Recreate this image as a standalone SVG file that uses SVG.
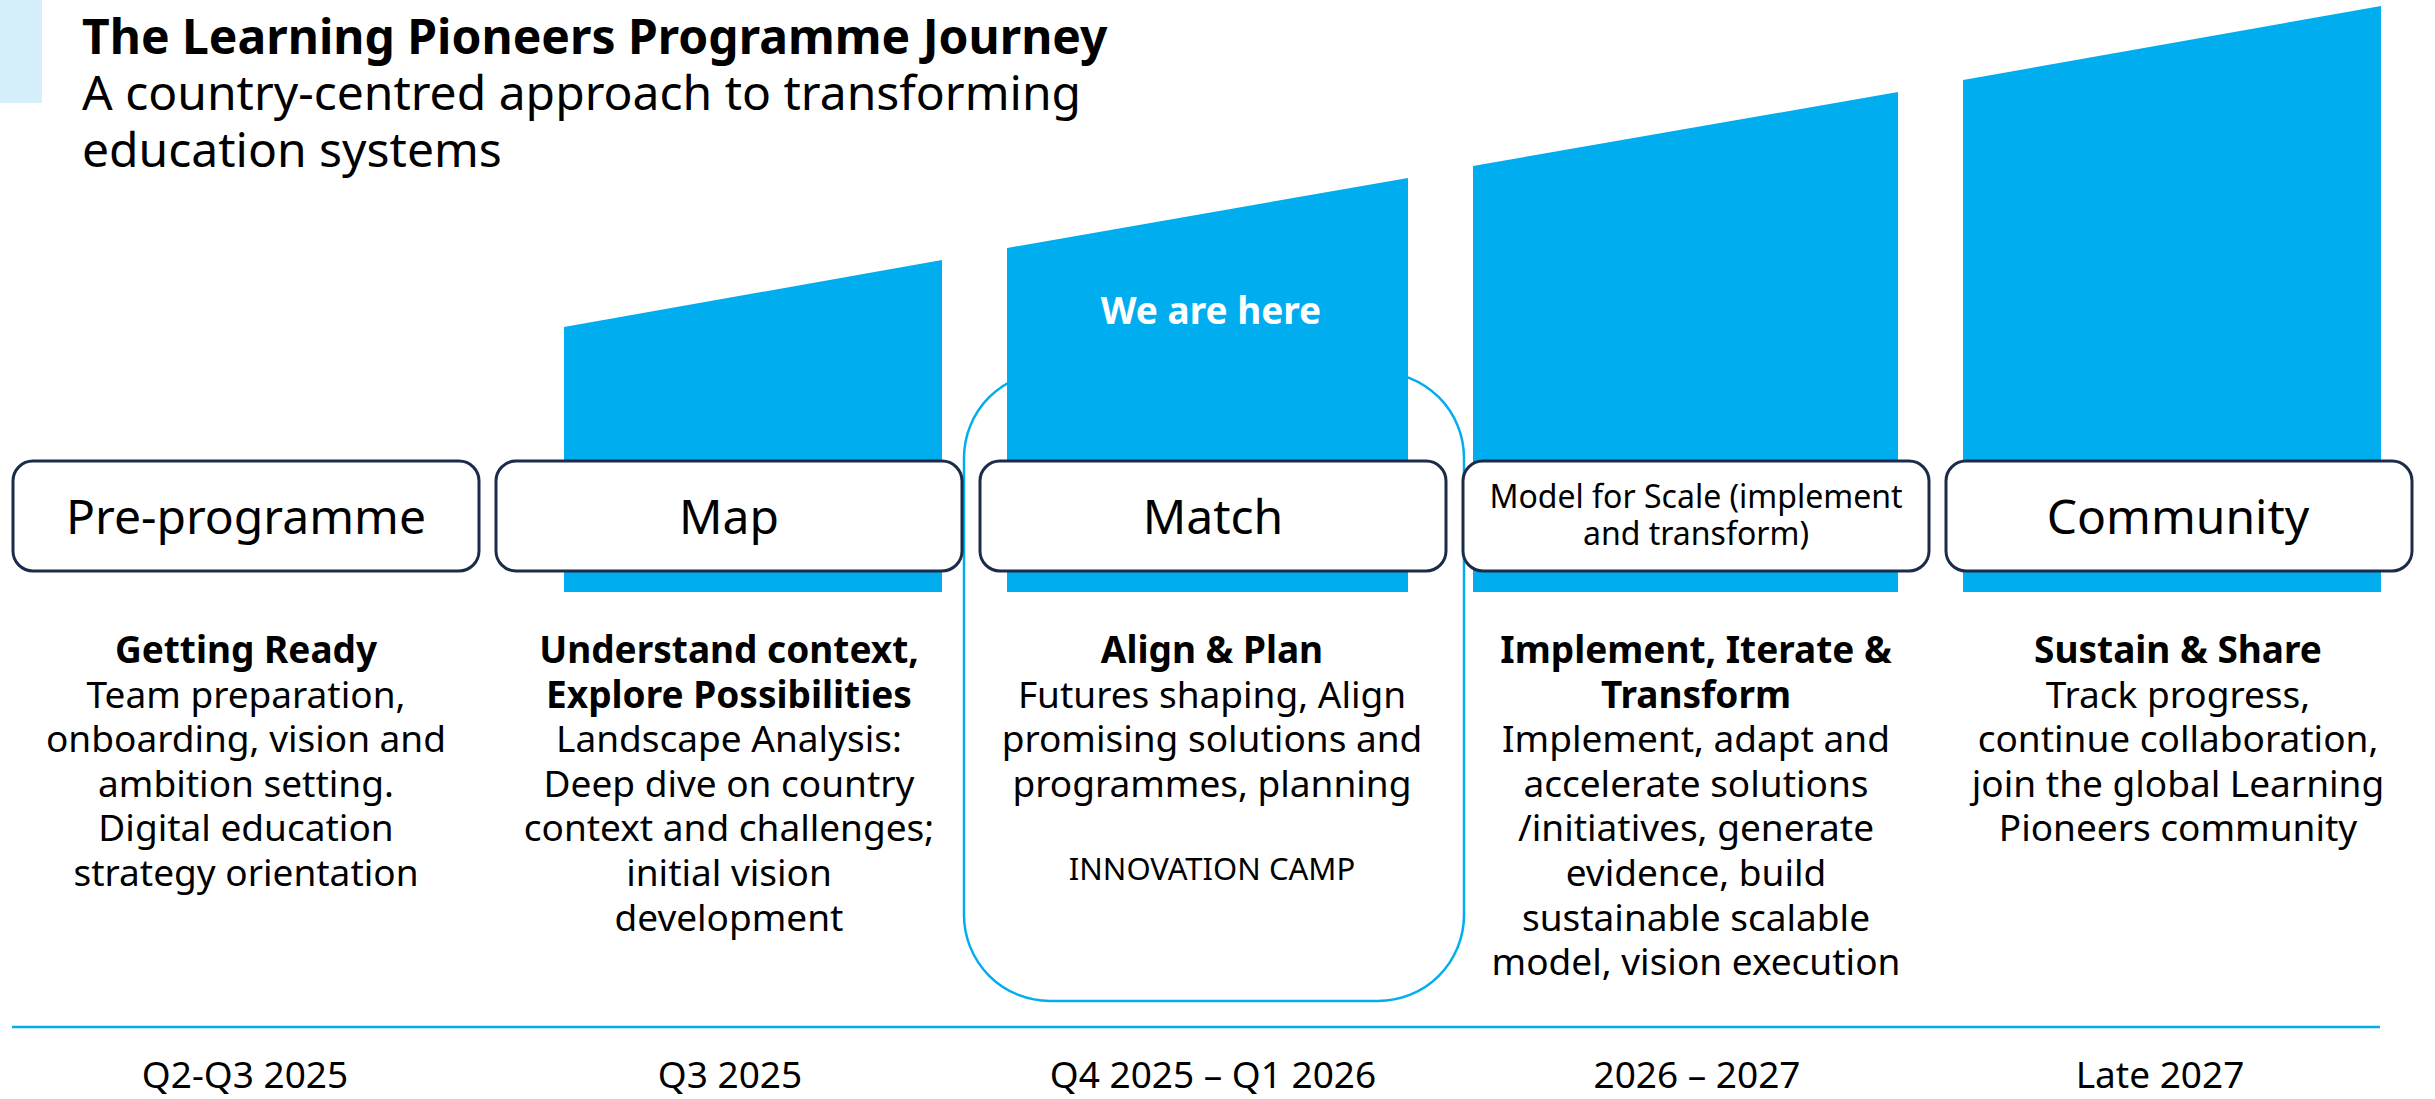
<svg xmlns="http://www.w3.org/2000/svg" width="2435" height="1099" viewBox="0 0 2435 1099">
<style>
text{font-family:"Noto Sans","Open Sans","Liberation Sans",sans-serif;fill:#000}
.bar{fill:#00aeef}
.box{fill:#fff;stroke:#1c2b4a;stroke-width:3}
.lbl{font-size:48px;text-anchor:middle}
.sm{font-size:32px;text-anchor:middle}
.desc{font-size:37px;text-anchor:middle}
.b{font-weight:bold}
.date{font-size:37px;text-anchor:middle}
</style>
<rect x="0" y="0" width="42" height="103" fill="#d4effa"/>
<g id="title">
<text x="82" y="54" font-size="48" font-weight="bold">The Learning Pioneers Programme Journey</text>
<text x="82" y="110" font-size="48">A country-centred approach to transforming</text>
<text x="82" y="167" font-size="48">education systems</text>
</g>
<g id="innovation-camp-frame">
<rect x="964" y="372" width="500" height="629" rx="86" ry="86" fill="none" stroke="#00aeef" stroke-width="2.5"/>
</g>
<g id="bars">
<polygon class="bar" points="564,327 942,260 942,592 564,592"/>
<polygon class="bar" points="1007,248 1408,178 1408,592 1007,592"/>
<polygon class="bar" points="1473,166 1898,92 1898,592 1473,592"/>
<polygon class="bar" points="1963,80 2381,6 2381,592 1963,592"/>
<text x="1211" y="324" font-size="37" font-weight="bold" text-anchor="middle" style="fill:#fff">We are here</text>
</g>
<g id="node-preprogramme">
<rect class="box" x="13" y="461" width="466" height="110" rx="20"/>
<text class="lbl" x="246" y="534">Pre-programme</text>
<text class="desc" x="246" y="663"><tspan class="b">Getting Ready</tspan><tspan x="246" dy="44.6">Team preparation,</tspan><tspan x="246" dy="44.6">onboarding, vision and</tspan><tspan x="246" dy="44.6">ambition setting.</tspan><tspan x="246" dy="44.6">Digital education</tspan><tspan x="246" dy="44.6">strategy orientation</tspan></text>
<text class="date" x="245" y="1088">Q2-Q3 2025</text>
</g>
<g id="node-map">
<rect class="box" x="496" y="461" width="466" height="110" rx="20"/>
<text class="lbl" x="729" y="534">Map</text>
<text class="desc" x="729" y="663"><tspan class="b">Understand context,</tspan><tspan class="b" x="729" dy="44.6">Explore Possibilities</tspan><tspan x="729" dy="44.6">Landscape Analysis:</tspan><tspan x="729" dy="44.6">Deep dive on country</tspan><tspan x="729" dy="44.6">context and challenges;</tspan><tspan x="729" dy="44.6">initial vision</tspan><tspan x="729" dy="44.6">development</tspan></text>
<text class="date" x="730" y="1088">Q3 2025</text>
</g>
<g id="node-match">
<rect class="box" x="980" y="461" width="466" height="110" rx="20"/>
<text class="lbl" x="1213" y="534">Match</text>
<text class="desc" x="1212" y="663"><tspan class="b">Align &amp; Plan</tspan><tspan x="1212" dy="44.6">Futures shaping, Align</tspan><tspan x="1212" dy="44.6">promising solutions and</tspan><tspan x="1212" dy="44.6">programmes, planning</tspan></text>
<text x="1212" y="880" font-size="31" text-anchor="middle">INNOVATION CAMP</text>
<text class="date" x="1213" y="1088">Q4 2025 – Q1 2026</text>
</g>
<g id="node-model">
<rect class="box" x="1463" y="461" width="466" height="110" rx="20"/>
<text class="sm" x="1696" y="508">Model for Scale (implement</text>
<text class="sm" x="1696" y="545">and transform)</text>
<text class="desc" x="1696" y="663"><tspan class="b">Implement, Iterate &amp;</tspan><tspan class="b" x="1696" dy="44.6">Transform</tspan><tspan x="1696" dy="44.6">Implement, adapt and</tspan><tspan x="1696" dy="44.6">accelerate solutions</tspan><tspan x="1696" dy="44.6">/initiatives, generate</tspan><tspan x="1696" dy="44.6">evidence, build</tspan><tspan x="1696" dy="44.6">sustainable scalable</tspan><tspan x="1696" dy="44.6">model, vision execution</tspan></text>
<text class="date" x="1697" y="1088">2026 – 2027</text>
</g>
<g id="node-community">
<rect class="box" x="1946" y="461" width="466" height="110" rx="20"/>
<text class="lbl" x="2178" y="534">Community</text>
<text class="desc" x="2178" y="663"><tspan class="b">Sustain &amp; Share</tspan><tspan x="2178" dy="44.6">Track progress,</tspan><tspan x="2178" dy="44.6">continue collaboration,</tspan><tspan x="2178" dy="44.6">join the global Learning</tspan><tspan x="2178" dy="44.6">Pioneers community</tspan></text>
<text class="date" x="2160" y="1088">Late 2027</text>
</g>
<g id="connectors">
<line x1="12" y1="1027" x2="2380" y2="1027" stroke="#00aeef" stroke-width="2.5"/>
</g>
</svg>
